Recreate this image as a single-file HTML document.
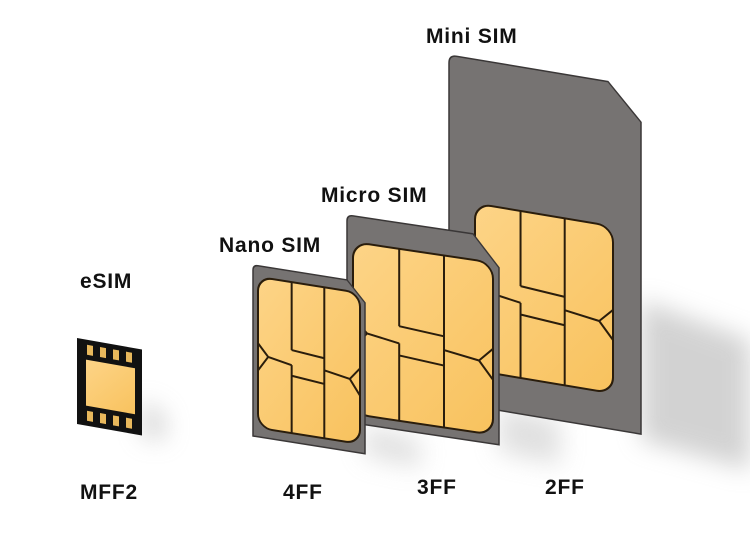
<!DOCTYPE html>
<html><head><meta charset="utf-8"><style>
html,body{margin:0;padding:0;background:#fff;}
svg{display:block}
text{font-family:"Liberation Sans",sans-serif;font-weight:bold;fill:#111;font-size:21px;letter-spacing:0.8px}
</style></head><body>
<svg width="750" height="536" viewBox="0 0 750 536" xmlns="http://www.w3.org/2000/svg">
<defs>
<linearGradient id="g" x1="0" y1="0" x2="1" y2="1">
<stop offset="0" stop-color="#fdd487"/><stop offset="1" stop-color="#f8c25e"/></linearGradient>
<filter id="bl" filterUnits="userSpaceOnUse" x="0" y="0" width="750" height="536"><feGaussianBlur stdDeviation="12"/></filter>
<g id="lines">
<path fill="none" stroke="#2a1d0c" stroke-width="2" vector-effect="non-scaling-stroke" d="M0.33 0V0.45 M0.33 0.45L0.65 0.47 M0.65 0V1 M0.1 0.52L0 0.44 M0.1 0.52L0 0.62 M0.1 0.52L0.33 0.55 M0.33 0.55V1 M0.33 0.62L0.65 0.64 M0.9 0.58L1 0.5 M0.9 0.58L1 0.68 M0.9 0.58L0.65 0.55"/>
</g>
</defs>
<!-- shadows -->
<polygon points="641,300 750,340 750,470 641,440" fill="#c8c8c8" filter="url(#bl)" opacity="0.8"/>
<polygon points="499,405 560,420 560,465 499,452" fill="#ccc" filter="url(#bl)" opacity="0.6"/>
<polygon points="365,425 420,440 420,468 365,456" fill="#ccc" filter="url(#bl)" opacity="0.6"/>
<polygon points="142,400 165,415 165,440 142,437" fill="#bbb" filter="url(#bl)" opacity="0.6"/>

<!-- Mini -->
<g transform="translate(449,55) skewY(9.5)">
<path d="M8 0H159L192 35V347H0V8Q0 0 8 0Z" fill="#767372" stroke="#3a3737" stroke-width="1.5"/>
<rect x="26" y="144" width="138" height="167" rx="16" fill="url(#g)" stroke="#2a1d0c" stroke-width="2"/>
<use href="#lines" transform="translate(26,144) scale(138,167)"/>
</g>
<!-- Micro -->
<g transform="translate(347,215) skewY(8.5)">
<path d="M6 0H126L152 30V207H0V6Q0 0 6 0Z" fill="#767372" stroke="#3a3737" stroke-width="1.5"/>
<rect x="6" y="26" width="140" height="172" rx="16" fill="url(#g)" stroke="#2a1d0c" stroke-width="2"/>
<use href="#lines" transform="translate(6,26) scale(140,172)"/>
</g>
<!-- Nano -->
<g transform="translate(253,265) skewY(9)">
<path d="M5 0H94L112 20V171H0V5Q0 0 5 0Z" fill="#767372" stroke="#3a3737" stroke-width="1.5"/>
<rect x="5" y="11" width="102" height="151" rx="14" fill="url(#g)" stroke="#2a1d0c" stroke-width="2"/>
<use href="#lines" transform="translate(5,11) scale(102,151)"/>
</g>
<!-- eSIM -->
<g transform="translate(77,338) skewY(10)">
<rect width="65" height="86" fill="#111"/>
<rect x="9" y="20" width="49" height="46" fill="url(#g)"/>
<g fill="#e8b85c">
<rect x="10" y="5" width="6" height="10"/><rect x="23" y="5" width="6" height="10"/><rect x="36" y="5" width="6" height="10"/><rect x="49" y="5" width="6" height="10"/>
<rect x="10" y="71" width="6" height="10"/><rect x="23" y="71" width="6" height="10"/><rect x="36" y="71" width="6" height="10"/><rect x="49" y="71" width="6" height="10"/>
</g>
</g>
<text x="426" y="43">Mini SIM</text>
<text x="321" y="202">Micro SIM</text>
<text x="219" y="252">Nano SIM</text>
<text x="80" y="288">eSIM</text>
<text x="80" y="499">MFF2</text>
<text x="283" y="499">4FF</text>
<text x="417" y="494">3FF</text>
<text x="545" y="494">2FF</text>
</svg>
</body></html>
